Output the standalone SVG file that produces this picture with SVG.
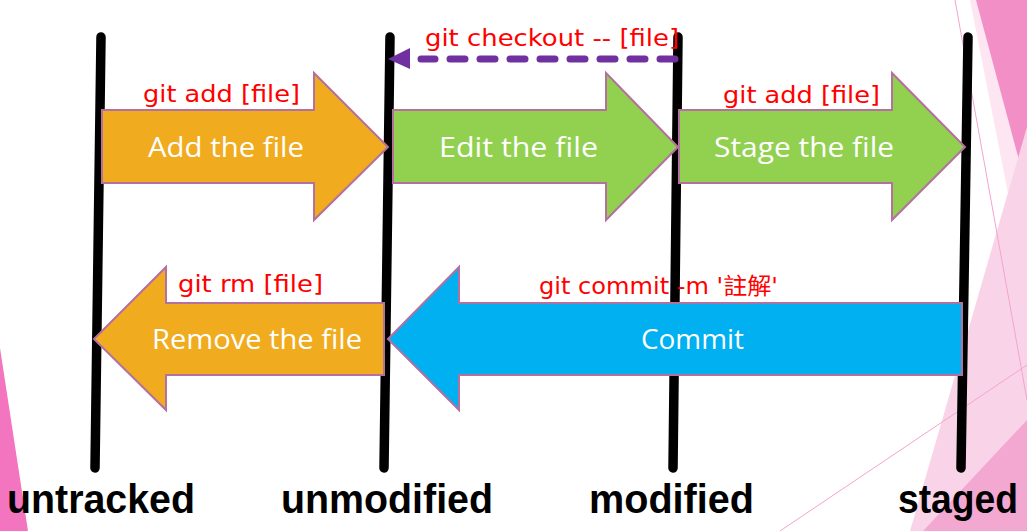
<svg xmlns="http://www.w3.org/2000/svg" width="1027" height="531" viewBox="0 0 1027 531">
<style>
.vline{stroke:#000;stroke-width:9.5;stroke-linecap:round;fill:none}
.arrow{stroke:#b4709f;stroke-width:2;stroke-linejoin:miter}
.orange{fill:#f0ab1e}
.green{fill:#92d050}
.blue{fill:#00b0f0}
.lbl{font-family:"Open Sans","Noto Sans",sans-serif;font-size:28px;fill:#fff;text-anchor:start}
.cmd{font-family:"DejaVu Sans","Noto Sans CJK TC",sans-serif;font-size:23px;fill:#ff0000}
.state{font-family:"Liberation Sans",Arial,sans-serif;font-weight:bold;font-size:41px;fill:#000}
.deco{stroke:#f5a3cd;stroke-width:1;fill:none}
</style>
<rect width="1027" height="531" fill="#ffffff"/>
<g id="decoration">
<polygon points="970,0 1027,0 1027,290" fill="#fde6f1"/>
<polygon points="976,0 1027,0 1027,190" fill="#f28fc7"/>
<polygon points="1027,127 1027,531 910,531" fill="#f9d4e8"/>
<polygon points="1027,420 1027,531 923,531" fill="#f3a8d2"/>
<line class="deco" x1="955" y1="0" x2="1027" y2="400"/>
<line class="deco" x1="780" y1="531" x2="1027" y2="365"/>
<polygon points="0,348 28,531 0,531" fill="#f374bf"/>
</g>
<g id="lines">
<line id="line-untracked" class="vline" x1="101" y1="37" x2="95" y2="468"/>
<line id="line-unmodified" class="vline" x1="390" y1="37" x2="384" y2="468"/>
<line id="line-modified" class="vline" x1="678" y1="37" x2="673" y2="468"/>
<line id="line-staged" class="vline" x1="968" y1="37" x2="961" y2="468"/>
</g>
<g id="node-add">
<polygon class="arrow orange" points="102,110 314,110 314,73 388,147 314,220 314,183 102,183"/>
<text class="lbl" x="148" y="157" textLength="156" lengthAdjust="spacingAndGlyphs">Add the file</text>
<text class="cmd" x="143" y="102" textLength="157" lengthAdjust="spacingAndGlyphs">git add [file]</text>
</g>
<g id="node-edit">
<polygon class="arrow green" points="393,110 606,110 606,73 678,147 606,220 606,183 393,183"/>
<text class="lbl" x="439" y="157" textLength="159" lengthAdjust="spacingAndGlyphs">Edit the file</text>
</g>
<g id="node-stage">
<polygon class="arrow green" points="679,110 892,110 892,73 965,147 892,220 892,183 679,183"/>
<text class="lbl" x="714" y="157" textLength="180" lengthAdjust="spacingAndGlyphs">Stage the file</text>
<text class="cmd" x="723" y="103" textLength="157" lengthAdjust="spacingAndGlyphs">git add [file]</text>
</g>
<g id="node-remove">
<polygon class="arrow orange" points="384,303 166,303 166,267 94,339 166,410 166,375 384,375"/>
<text class="lbl" x="152" y="349" textLength="210" lengthAdjust="spacingAndGlyphs">Remove the file</text>
<text class="cmd" x="178" y="292" textLength="145" lengthAdjust="spacingAndGlyphs">git rm [file]</text>
</g>
<g id="node-commit">
<polygon class="arrow blue" points="962,303 459,303 459,267 388,339 459,410 459,375 962,375"/>
<text class="lbl" x="641" y="349" textLength="103" lengthAdjust="spacingAndGlyphs">Commit</text>
<text class="cmd" x="539" y="294" textLength="239" lengthAdjust="spacingAndGlyphs">git commit -m '註解'</text>
</g>
<g id="connectors">
<path d="M675,59 H421" stroke="#7030a0" stroke-width="7" stroke-linecap="round" stroke-dasharray="15 15" fill="none"/>
<polygon points="410,48 388,59 410,69" fill="#7030a0"/>
<text class="cmd" x="425" y="46" textLength="254" lengthAdjust="spacingAndGlyphs">git checkout -- [file]</text>
</g>
<g id="states">
<text class="state" x="7" y="513" textLength="188" lengthAdjust="spacingAndGlyphs">untracked</text>
<text class="state" x="281" y="513" textLength="212" lengthAdjust="spacingAndGlyphs">unmodified</text>
<text class="state" x="589" y="513" textLength="165" lengthAdjust="spacingAndGlyphs">modified</text>
<text class="state" x="898" y="513" textLength="120" lengthAdjust="spacingAndGlyphs">staged</text>
</g>
</svg>
